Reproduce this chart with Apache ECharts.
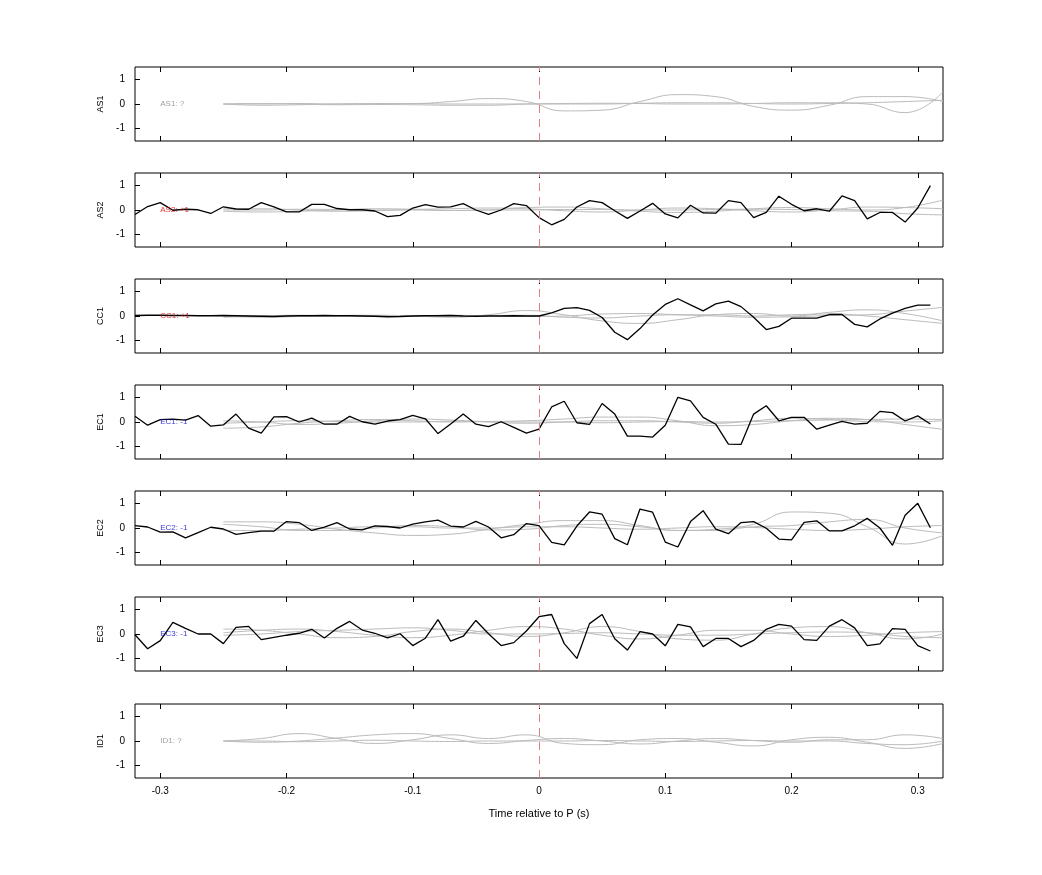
<!DOCTYPE html>
<html><head><meta charset="utf-8">
<script src="https://cdn.jsdelivr.net/npm/echarts@6/dist/echarts.min.js"></script>
<style>html,body{margin:0;background:#fff}#c{width:1042px;height:875px}</style>
</head><body><div id="c"></div>
<script>
const channels = ['AS1','AS2','CC1','EC1','EC2','EC3','ID1'];
const labels = ['AS1: ?','AS2: +1','CC1: +1','EC1: -1','EC2: -1','EC3: -1','ID1: ?'];
const labelColors = ['#888','#d00','#d00','#00c','#00c','#00c','#888'];
const xTicks = [-0.3,-0.2,-0.1,0,0.1,0.2,0.3];
const yTicks = [-1,0,1];
// black trace sample times: -0.32 .. 0.31 step 0.01
const blackTimes = Array.from({length:64},(_,i)=>Math.round((-0.32+i*0.01)*100)/100);
const AS2 = [-0.18,0.14,0.30,-0.01,0.03,0.01,-0.14,0.13,0.04,0.03,0.30,0.13,-0.08,-0.08,0.23,0.23,0.06,0.01,0.01,-0.04,-0.27,-0.22,0.08,0.22,0.12,0.13,0.26,0.0,-0.18,0.0,0.26,0.18,-0.31,-0.60,-0.38,0.12,0.38,0.30,-0.03,-0.34,-0.04,0.27,-0.16,-0.32,0.19,-0.12,-0.13,0.38,0.30,-0.31,-0.10,0.56,0.23,-0.03,0.05,-0.05,0.57,0.38,-0.36,-0.10,-0.10,-0.49,0.08,0.99];
const CC1 = [0.02,0.03,0.03,0.02,0.02,0.01,0.01,0.02,0.01,0,-0.01,-0.02,0,0.01,0.01,0.02,0.01,0.01,0.0,-0.01,-0.03,-0.02,0.0,0.01,0.01,0.02,0.0,-0.01,0,0,0.01,0,0,0.13,0.31,0.34,0.23,-0.06,-0.66,-0.96,-0.51,0.04,0.47,0.70,0.45,0.21,0.49,0.60,0.38,-0.05,-0.55,-0.42,-0.09,-0.09,-0.09,0.06,0.06,-0.34,-0.44,-0.12,0.12,0.31,0.44,0.44];
const EC1 = [0.23,-0.13,0.10,0.12,0.08,0.26,-0.17,-0.12,0.32,-0.25,-0.45,0.21,0.22,0,0.16,-0.09,-0.09,0.23,0.01,-0.09,0.04,0.10,0.27,0.13,-0.47,-0.08,0.32,-0.09,-0.19,0.01,-0.22,-0.45,-0.29,0.61,0.84,-0.03,-0.10,0.75,0.32,-0.57,-0.57,-0.61,-0.13,1.0,0.86,0.19,-0.09,-0.90,-0.91,0.32,0.66,0.05,0.19,0.19,-0.29,-0.13,0.03,-0.09,-0.05,0.43,0.38,0.04,0.25,-0.08];
const EC2 = [0.10,0.04,-0.17,-0.16,-0.40,-0.19,0.03,-0.04,-0.26,-0.19,-0.13,-0.13,0.26,0.22,-0.10,0.04,0.22,-0.04,-0.08,0.09,0.06,0,0.16,0.25,0.32,0.08,0.04,0.27,0.04,-0.40,-0.27,0.18,0.10,-0.58,-0.68,0.08,0.65,0.56,-0.43,-0.68,0.77,0.64,-0.57,-0.77,0.26,0.70,-0.05,-0.23,0.22,0.26,-0.01,-0.45,-0.48,0.23,0.29,-0.12,-0.12,0.09,0.39,0,-0.70,0.52,1.0,0.01];
const EC3 = [-0.03,-0.60,-0.27,0.47,0.23,0,0,-0.39,0.27,0.31,-0.23,-0.14,-0.05,0.03,0.19,-0.16,0.23,0.51,0.16,0.03,-0.16,0.01,-0.47,-0.17,0.58,-0.29,-0.09,0.55,0.01,-0.47,-0.35,0.12,0.70,0.79,-0.39,-0.99,0.42,0.79,-0.19,-0.65,0.10,0,-0.48,0.39,0.29,-0.51,-0.18,-0.18,-0.51,-0.26,0.19,0.39,0.32,-0.23,-0.26,0.32,0.58,0.25,-0.47,-0.40,0.22,0.19,-0.47,-0.69];
const blackByChannel = {AS2, CC1, EC1, EC2, EC3};
// grey traces sample times: -0.25 .. 0.32 step 0.03
const greyTimes = [-0.25,-0.22,-0.19,-0.16,-0.13,-0.10,-0.07,-0.04,-0.01,0.02,0.05,0.08,0.11,0.14,0.17,0.20,0.23,0.26,0.29,0.32];
const greyAS1 = [
 [0,-0.05,-0.03,0,0.02,0.02,0.1,0.22,0.1,-0.28,-0.25,0.1,0.38,0.3,-0.1,-0.25,-0.05,0.3,0.3,0.1],
 [0,0.02,0,-0.03,-0.02,-0.03,-0.05,-0.05,0,0.02,0.03,0.02,0,0,0.02,0.05,0.05,0,-0.35,0.5],
 [0,0,0.02,0,0,0.02,0,0,0,0,0,0.03,0.05,0.05,0.02,0,0.02,0.05,0.1,0.15]];
const greyAS2 = [
 [-0.05,-0.08,-0.05,0,0.05,0.03,-0.02,0,0.1,0.12,0.05,-0.05,-0.1,-0.05,0.05,0.1,0.05,0,0.1,0.4],
 [0.05,0.05,0,-0.05,-0.03,0.02,0.05,0.08,0.05,-0.03,-0.08,0,0.08,0.05,-0.03,-0.08,0,0.12,0.1,0.05],
 [0,0,0.03,0.02,0,0,-0.02,0,0,0.02,0.02,0,0,0.02,0.03,0.02,-0.03,-0.05,-0.15,-0.2]];
const greyCC1 = [
 [0,-0.05,-0.02,0.02,0.03,0,-0.05,0.05,0.22,0.05,-0.2,-0.3,-0.15,0.05,0.1,0,0.15,0.25,0.1,-0.2],
 [-0.05,0,0.03,0,-0.02,0,0.03,0,-0.02,0,0.08,0.1,0.05,0,-0.05,-0.03,0.02,0.05,0.2,0.35],
 [0.02,0,-0.02,0,0.02,0,0,0.02,0.03,-0.05,-0.08,0,0.05,0.05,0,0.05,0.08,0,-0.15,-0.3]];
const greyEC1 = [
 [-0.25,-0.2,-0.05,0.05,0.1,0.05,0,0.02,0.05,0.12,0.2,0.2,0.05,-0.15,-0.1,0.05,0.15,0.1,-0.1,-0.3],
 [0.05,0,-0.1,-0.05,0.05,0.12,0.08,0,-0.05,0,0.05,0.05,0,-0.05,0.05,0.15,0.1,0.02,0,0.05],
 [-0.05,0,0.05,0.02,0,0,0.03,0.02,0,0,-0.03,0,0.02,0,0.02,0.05,0.08,0.1,0.12,0.1]];
const greyEC2 = [
 [0.25,0.25,0.15,-0.05,-0.2,-0.3,-0.25,-0.05,0.15,0.3,0.3,0.1,-0.1,-0.05,0.15,0.65,0.6,0.05,-0.65,-0.3],
 [0.15,0.05,-0.1,-0.1,0,0.1,0.05,-0.08,-0.05,0.1,0.15,0.05,-0.1,-0.1,0.05,0.1,0.25,0.35,0,-0.2],
 [-0.1,-0.1,-0.05,0,0.05,0.05,0,0,0.05,0.05,0,-0.05,0,0.05,0.02,-0.05,-0.1,-0.05,0.05,0.1]];
const greyEC3 = [
 [0.2,0.15,0,-0.15,-0.1,0.1,0.2,0.05,-0.1,0.05,0.3,0.1,-0.2,-0.25,0,0.25,0.3,0.05,-0.2,0],
 [0.05,0.15,0.2,0.1,-0.05,-0.15,-0.05,0.15,0.3,0.2,-0.05,-0.2,-0.05,0.15,0.15,0,-0.1,-0.05,0.05,0.1],
 [-0.05,0,0.1,0.15,0.2,0.25,0.15,0,0,0.02,0.05,0,-0.05,-0.05,0,0.05,0.08,0.05,-0.1,-0.15]];
const greyID1 = [
 [0,0.1,0.3,0.1,-0.1,0.05,0.25,0.1,0.25,-0.1,-0.15,0.05,0.1,-0.05,-0.2,0.05,0.15,-0.05,-0.3,-0.1],
 [0,-0.05,0,0.12,0.25,0.3,0.1,-0.1,0.02,0.1,0,-0.12,0,0.1,0.02,-0.05,0.05,0.05,0.25,0.1],
 [0,0,-0.03,0,0.03,0,-0.02,0,0,0,0.02,0,-0.02,0,0.02,0,0,-0.1,-0.15,0]];
const greyByChannel = {AS1:greyAS1, AS2:greyAS2, CC1:greyCC1, EC1:greyEC1, EC2:greyEC2, EC3:greyEC3, ID1:greyID1};

const tops = [67,173,279,385,491,597,704];
const grid=[], xAxis=[], yAxis=[], series=[];
const font = 'Helvetica, "Liberation Sans", Arial, sans-serif';
channels.forEach((ch,k)=>{
  grid.push({left:135, width:808, top:tops[k], height:74, show:true, borderColor:'#000', borderWidth:1, backgroundColor:'#fff'});
  const last = k===channels.length-1;
  const base = {gridIndex:k, type:'value', min:-0.32, max:0.32,
    axisLine:{show:false, onZero:false}, splitLine:{show:false},
    axisTick:{show:true, inside:true, length:5, customValues:xTicks, lineStyle:{color:'#000'}}};
  xAxis.push(Object.assign({}, base, {position:'bottom',
    axisLabel:{show:last, customValues:xTicks, fontSize:10, color:'#000', fontFamily:font, margin:8, formatter:v=>String(v)},
    name:last?'Time relative to P (s)':'', nameLocation:'middle', nameGap:30, nameTextStyle:{fontSize:11,color:'#000',fontFamily:font}}));
  xAxis.push(Object.assign({}, base, {position:'top', axisLabel:{show:false}}));
  yAxis.push({gridIndex:k, type:'value', min:-1.5, max:1.5, position:'left',
    axisLine:{show:false, onZero:false}, splitLine:{show:false},
    axisTick:{show:true, inside:true, length:5, customValues:yTicks, lineStyle:{color:'#000'}},
    axisLabel:{customValues:yTicks, fontSize:10, color:'#000', fontFamily:font, margin:10},
    name:ch, nameLocation:'middle', nameGap:28, nameRotate:90, nameTextStyle:{fontSize:9,color:'#000',fontFamily:font}});
  const xi = 2*k;
  greyByChannel[ch].forEach((arr,j)=>{
    series.push({type:'line', xAxisIndex:xi, yAxisIndex:k, smooth:0.5, symbol:'none', silent:true,
      lineStyle:{color:'#bbb', width:1}, data:greyTimes.map((t,i)=>[t,arr[i]]),
      markLine: j===0 ? {silent:true, symbol:'none', label:{show:false},
        lineStyle:{color:'#e08080', type:[8,6], width:1}, data:[{xAxis:0}]} : undefined});
  });
  if (blackByChannel[ch]) {
    const arr = blackByChannel[ch];
    series.push({type:'line', xAxisIndex:xi, yAxisIndex:k, symbol:'none', silent:true,
      lineStyle:{color:'#000', width:1.3}, data:blackTimes.map((t,i)=>[t,arr[i]])});
  }
  series.push({type:'scatter', xAxisIndex:xi, yAxisIndex:k, symbolSize:0, silent:true, z:10,
    data:[[-0.3,0]], label:{show:true, position:'right', distance:0, formatter:labels[k], color:labelColors[k], fontSize:8, fontFamily:font}});
});
const chart = echarts.init(document.getElementById('c'), null, {renderer:'canvas'});
chart.setOption({animation:false, backgroundColor:'#fff', grid, xAxis, yAxis, series});
</script></body></html>
